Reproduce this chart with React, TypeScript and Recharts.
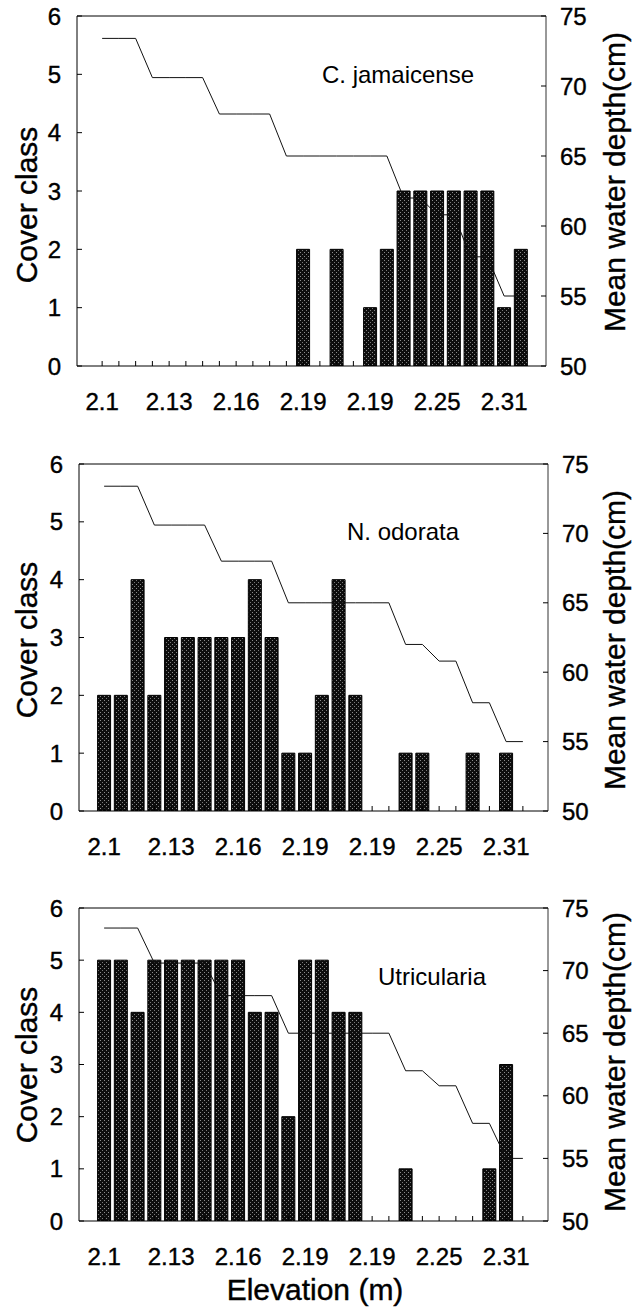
import React from 'react';
import { ComposedChart, Bar, Line, XAxis, YAxis, ReferenceLine } from 'recharts';

// 28 category slots along the elevation axis (first and last are empty padding slots)
const categoryIndex = [0, 1, 2, 3, 4, 5, 6, 7, 8, 9, 10, 11, 12, 13, 14, 15, 16, 17, 18, 19, 20, 21, 22, 23, 24, 25, 26, 27];
const elevationLabels = ['', '2.1', '', '', '', '2.13', '', '', '', '2.16', '', '', '', '2.19', '', '', '', '2.19', '', '', '', '2.25', '', '', '', '2.31', '', ''];

const meanDepth: (number | null)[] = [null, 73.4, 73.4, 73.4, 70.6, 70.6, 70.6, 70.6, 68, 68, 68, 68, 65, 65, 65, 65, 65, 65, 65, 62, 62, 60.8, 60.8, 57.8, 57.8, 55, 55, null];

const coverJamaicense = [0, 0, 0, 0, 0, 0, 0, 0, 0, 0, 0, 0, 0, 2, 0, 2, 0, 1, 2, 3, 3, 3, 3, 3, 3, 1, 2, 0];
const coverOdorata = [0, 2, 2, 4, 2, 3, 3, 3, 3, 3, 4, 3, 1, 1, 2, 4, 2, 0, 0, 1, 1, 0, 0, 1, 0, 1, 0, 0];
const coverUtricularia = [0, 5, 5, 4, 5, 5, 5, 5, 5, 5, 4, 4, 2, 5, 5, 4, 4, 0, 0, 1, 0, 0, 0, 0, 1, 3, 0, 0];

const coverTicks = [0, 1, 2, 3, 4, 5, 6];
const depthTicks = [50, 55, 60, 65, 70, 75];

const FONT = '"Liberation Sans", Arial, sans-serif';

const buildRows = (cover: number[]) =>
  categoryIndex.map((i) => ({ idx: i, cover: cover[i], depth: meanDepth[i] }));

const XTick = (props: any) => {
  const { x, y, payload } = props;
  const i = payload.value as number;
  const label = elevationLabels[i];
  const hasTick = meanDepth[i] != null;
  return (
    <g>
      {hasTick && <line x1={x} x2={x} y1={y} y2={y - 5} stroke="#000" strokeWidth={1} />}
      {label && (
        <text x={x} y={y + 44} textAnchor="middle" fontSize={24} fontFamily={FONT} fill="#000" stroke="#000" strokeWidth={0.4}>
          {label}
        </text>
      )}
    </g>
  );
};

const LeftTick = (props: any) => {
  const { x, y, payload } = props;
  return (
    <g>
      <line x1={x} x2={x + 5} y1={y} y2={y} stroke="#000" strokeWidth={1} />
      <text x={x - 16} y={y + 8.5} textAnchor="end" fontSize={24} fontFamily={FONT} fill="#000" stroke="#000" strokeWidth={0.4}>
        {payload.value}
      </text>
    </g>
  );
};

const RightTick = (props: any) => {
  const { x, y, payload } = props;
  return (
    <g>
      <line x1={x - 5} x2={x} y1={y} y2={y} stroke="#000" strokeWidth={1} />
      <text x={x + 14} y={y + 8.5} textAnchor="start" fontSize={24} fontFamily={FONT} fill="#000" stroke="#000" strokeWidth={0.4}>
        {payload.value}
      </text>
    </g>
  );
};

type PanelProps = {
  plotTop: number;
  plotBottom: number;
  plotLeft: number;
  plotRight: number;
  cover: number[];
  species: string;
  speciesX: number;
  speciesY: number;
  leftTitleY: number;
  rightTitleY: number;
};

const Panel = ({ plotTop, plotBottom, plotLeft, plotRight, cover, species, speciesX, speciesY, leftTitleY, rightTitleY }: PanelProps) => {
  const mTop = 16;
  const axisW = 60;
  const xAxisH = 54;
  const plotH = plotBottom - plotTop;
  const height = mTop + plotH + xAxisH;
  const data = buildRows(cover);
  return (
    <>
      <div style={{ position: 'absolute', left: 0, top: plotTop - mTop, width: 634, height }}>
        <ComposedChart
          width={634}
          height={height}
          data={data}
          margin={{ top: mTop, right: 634 - plotRight - axisW, left: plotLeft - axisW, bottom: 0 }}
          barCategoryGap="11%"
        >
          <XAxis
            dataKey="idx"
            type="category"
            interval={0}
            tickSize={0}
            tickMargin={0}
            height={xAxisH}
            tick={<XTick />}
            axisLine={{ stroke: '#000', strokeWidth: 1 }}
            tickLine={false}
          />
          <YAxis
            yAxisId="left"
            orientation="left"
            domain={[0, 6]}
            ticks={coverTicks}
            width={axisW}
            tickSize={0}
            tickMargin={0}
            tick={<LeftTick />}
            tickLine={false}
            axisLine={{ stroke: '#000', strokeWidth: 1 }}
            allowDataOverflow
          />
          <YAxis
            yAxisId="right"
            orientation="right"
            domain={[50, 75]}
            ticks={depthTicks}
            width={axisW}
            tickSize={0}
            tickMargin={0}
            tick={<RightTick />}
            tickLine={false}
            axisLine={{ stroke: '#333', strokeWidth: 1 }}
            allowDataOverflow
          />
          <ReferenceLine yAxisId="left" y={6} stroke="#000" strokeWidth={1} />
          <Bar yAxisId="left" dataKey="cover" fill="url(#halftone)" stroke="#000" strokeWidth={1} isAnimationActive={false} />
          <Line
            yAxisId="right"
            dataKey="depth"
            type="linear"
            stroke="#111"
            strokeWidth={1}
            dot={false}
            activeDot={false}
            connectNulls={false}
            isAnimationActive={false}
          />
        </ComposedChart>
      </div>
      <div
        style={{
          position: 'absolute',
          left: speciesX,
          top: speciesY,
          transform: 'translate(-50%, -50%)',
          fontFamily: FONT,
          fontSize: 24,
          lineHeight: 1,
          whiteSpace: 'nowrap',
          color: '#000',
        }}
      >
        {species}
      </div>
      <div
        style={{
          position: 'absolute',
          left: 27,
          top: leftTitleY,
          transform: 'translate(-50%, -50%) rotate(-90deg)',
          fontFamily: FONT,
          fontSize: 30,
          lineHeight: 1,
          whiteSpace: 'nowrap',
          color: '#000',
          WebkitTextStroke: '0.4px #000',
        }}
      >
        Cover class
      </div>
      <div
        style={{
          position: 'absolute',
          left: 615,
          top: rightTitleY,
          transform: 'translate(-50%, -50%) rotate(-90deg)',
          fontFamily: FONT,
          fontSize: 30,
          lineHeight: 1,
          whiteSpace: 'nowrap',
          color: '#000',
          WebkitTextStroke: '0.4px #000',
        }}
      >
        Mean water depth(cm)
      </div>
    </>
  );
};

export default function App() {
  return (
    <div style={{ position: 'absolute', left: 0, top: 0, width: 634, height: 1310, background: '#fff', overflow: 'hidden' }}>
      <svg width={0} height={0} style={{ position: 'absolute' }}>
        <defs>
          <pattern id="halftone" width={4} height={4} patternUnits="userSpaceOnUse">
            <rect width={4} height={4} fill="#0d0d0d" />
            <rect x={0} y={0} width={1} height={1} fill="#8c8c8c" />
            <rect x={2} y={2} width={1} height={1} fill="#7a7a7a" />
          </pattern>
        </defs>
      </svg>
      <Panel
        plotTop={16}
        plotBottom={366}
        plotLeft={77}
        plotRight={546}
        cover={coverJamaicense}
        species="C. jamaicense"
        speciesX={398}
        speciesY={75}
        leftTitleY={205}
        rightTitleY={182}
      />
      <Panel
        plotTop={464}
        plotBottom={811}
        plotLeft={79}
        plotRight={548}
        cover={coverOdorata}
        species="N. odorata"
        speciesX={403}
        speciesY={532}
        leftTitleY={640}
        rightTitleY={640}
      />
      <Panel
        plotTop={908}
        plotBottom={1221}
        plotLeft={79}
        plotRight={548}
        cover={coverUtricularia}
        species="Utricularia"
        speciesX={432}
        speciesY={977}
        leftTitleY={1065}
        rightTitleY={1062}
      />
      <div
        style={{
          position: 'absolute',
          left: 315,
          top: 1290,
          transform: 'translate(-50%, -50%)',
          fontFamily: FONT,
          fontSize: 30,
          lineHeight: 1,
          whiteSpace: 'nowrap',
          color: '#000',
          WebkitTextStroke: '0.4px #000',
        }}
      >
        Elevation (m)
      </div>
    </div>
  );
}
